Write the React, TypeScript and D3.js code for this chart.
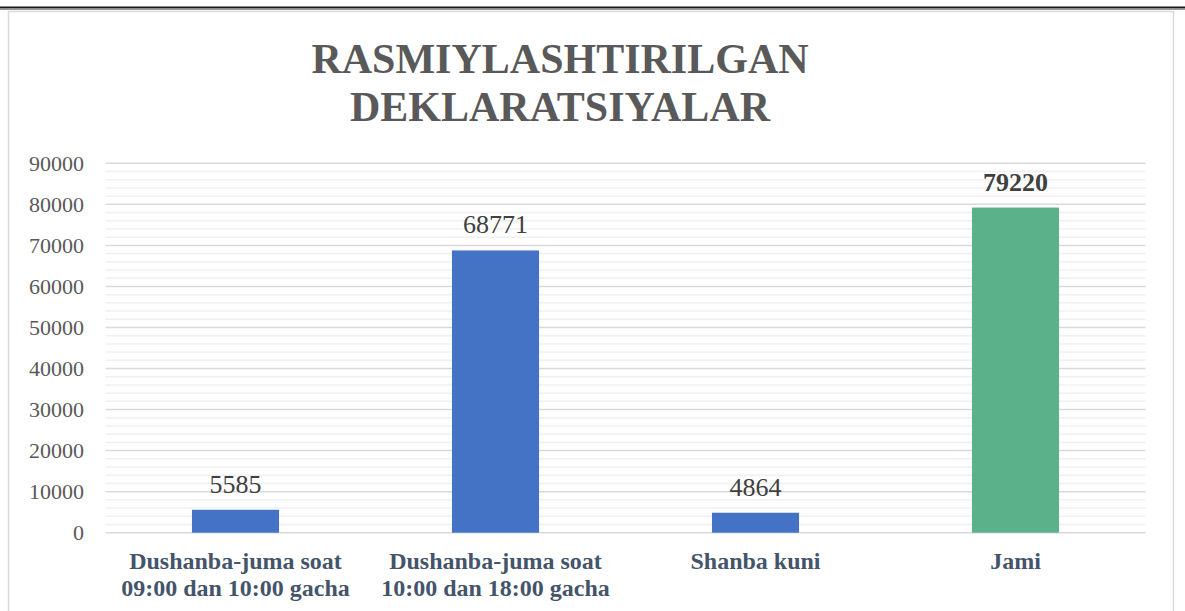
import React from "react";
import * as d3 from "d3";

const categories: string[][] = [
  ["Dushanba-juma soat", "09:00 dan 10:00 gacha"],
  ["Dushanba-juma soat", "10:00 dan 18:00 gacha"],
  ["Shanba kuni"],
  ["Jami"],
];
const values: number[] = [5585, 68771, 4864, 79220];
const barColors: string[] = ["#4472C4", "#4472C4", "#4472C4", "#5BB28A"];
const boldLabel: boolean[] = [false, false, false, true];
const yTicks: number[] = [0, 10000, 20000, 30000, 40000, 50000, 60000, 70000, 80000, 90000];
const titleLines: string[] = ["RASMIYLASHTIRILGAN", "DEKLARATSIYALAR"];

const W = 1185;
const H = 611;
const FONT = '"Liberation Serif", "Times New Roman", serif';

export default function App() {
  const x = d3
    .scaleBand<number>()
    .domain(values.map((_, i) => i))
    .range([105.5, 1145.5])
    .paddingInner(0.665)
    .paddingOuter(0.3325);
  const y = d3.scaleLinear().domain([0, 90000]).range([532.7, 163.3]);
  const minor = d3.range(0, 90001, 2000).filter((v) => v % 10000 !== 0);

  return (
    <svg
      width={W}
      height={H}
      style={{ position: "absolute", left: 0, top: 0, background: "#fff" }}
    >
      <rect x={0} y={0} width={W} height={H} fill="#fff" />
      <line x1={0} x2={W} y1={7.5} y2={7.5} stroke="#1a1a1a" strokeWidth={2} />
      <line x1={0} x2={W} y1={9.5} y2={9.5} stroke="#9a9a9a" strokeWidth={1} />
      <rect x={8.5} y={11.5} width={1165} height={H + 10} fill="none" stroke="#d9d9d9" strokeWidth={1.5} />

      {titleLines.map((t, i) => (
        <text
          key={t}
          x={560}
          y={73 + i * 48}
          textAnchor="middle"
          fontFamily={FONT}
          fontWeight="bold"
          fontSize={42}
          fill="#595959"
        >
          {t}
        </text>
      ))}

      {minor.map((v) => (
        <line key={"m" + v} x1={105.5} x2={1145.5} y1={y(v)} y2={y(v)} stroke="#f0f0f0" strokeWidth={1.5} />
      ))}
      {yTicks.map((v) => (
        <g key={"t" + v}>
          <line x1={105.5} x2={1145.5} y1={y(v)} y2={y(v)} stroke="#d9d9d9" strokeWidth={1.5} />
          <text
            x={84}
            y={y(v)}
            dy="0.35em"
            textAnchor="end"
            fontFamily={FONT}
            fontSize={22}
            fill="#595959"
          >
            {v}
          </text>
        </g>
      ))}

      {values.map((v, i) => {
        const bx = x(i) as number;
        const bw = x.bandwidth();
        return (
          <g key={"b" + i}>
            <rect x={bx} y={y(v)} width={bw} height={y(0) - y(v)} fill={barColors[i]} />
            <text
              x={bx + bw / 2}
              y={y(v) - 17}
              textAnchor="middle"
              fontFamily={FONT}
              fontSize={26}
              fontWeight={boldLabel[i] ? "bold" : "normal"}
              fill="#404040"
            >
              {v}
            </text>
            {categories[i].map((line, j) => (
              <text
                key={j}
                x={bx + bw / 2}
                y={569 + j * 26.5}
                textAnchor="middle"
                fontFamily={FONT}
                fontSize={24}
                fontWeight="bold"
                fill="#44546A"
              >
                {line}
              </text>
            ))}
          </g>
        );
      })}
    </svg>
  );
}
